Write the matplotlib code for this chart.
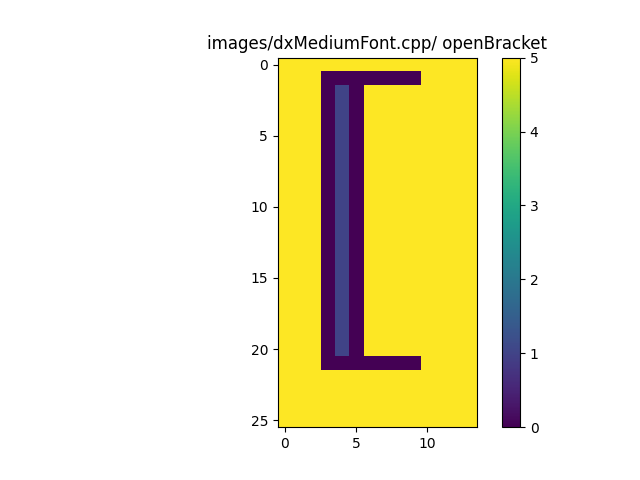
import numpy as np
import matplotlib
matplotlib.use("Agg")
import matplotlib.pyplot as plt

title = "images/dxMediumFont.cpp/ openBracket"
rows = [
    "55555555555555",
    "55500000005555",
    "55501055555555",
    "55501055555555",
    "55501055555555",
    "55501055555555",
    "55501055555555",
    "55501055555555",
    "55501055555555",
    "55501055555555",
    "55501055555555",
    "55501055555555",
    "55501055555555",
    "55501055555555",
    "55501055555555",
    "55501055555555",
    "55501055555555",
    "55501055555555",
    "55501055555555",
    "55501055555555",
    "55501055555555",
    "55500000005555",
    "55555555555555",
    "55555555555555",
    "55555555555555",
    "55555555555555",
]
grid = np.array([[int(c) for c in r] for r in rows])

fig, ax = plt.subplots(figsize=(6.4, 4.8), dpi=100)
im = ax.imshow(grid, cmap="viridis")
ax.set_title(title)
fig.colorbar(im, ax=ax)
fig.savefig("out.png")
